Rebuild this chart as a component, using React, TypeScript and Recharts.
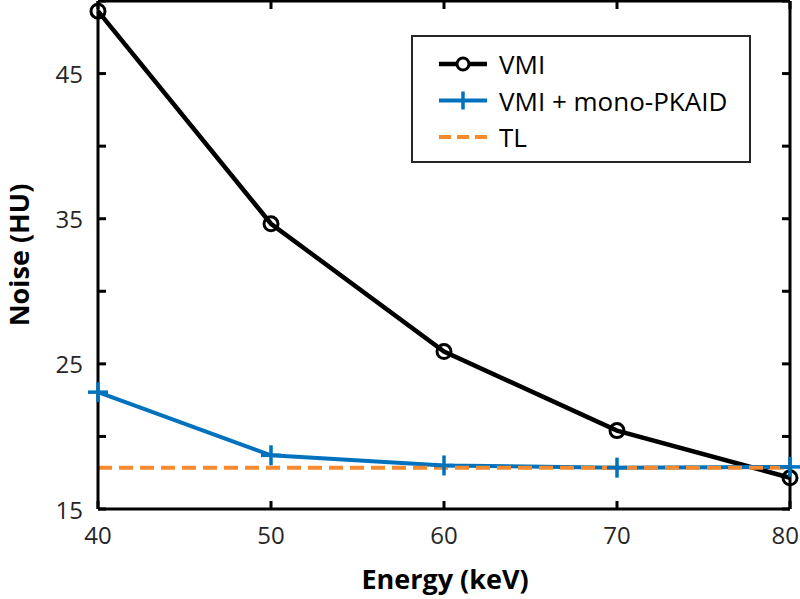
import { LineChart, Line, XAxis, YAxis, ReferenceLine } from 'recharts'

const energy = [40, 50, 60, 70, 80]
const vmi = [49.3, 34.65, 25.85, 20.4, 17.15]
const vmiPkaid = [23.05, 18.7, 18.0, 17.85, 17.9]
const tl = [17.85, 17.85, 17.85, 17.85, 17.85]

const xTicks = [40, 50, 60, 70, 80]
const yTicks = [15, 20, 25, 30, 35, 40, 45, 50]
const yLabels = [15, 25, 35, 45]

const data = energy.map((e, i) => ({ energy: e, vmi: vmi[i], pkaid: vmiPkaid[i], tl: tl[i] }))

const FONT = '"Open Sans", sans-serif'
const X_MIN = 40
const X_MAX = 80
const Y_MIN = 15
const Y_MAX = 50

function LeftTick({ x, y, payload }: any) {
  return (
    <g>
      <line x1={x} x2={x + 8} y1={y} y2={y} stroke="#000" strokeWidth={3} />
      {yLabels.includes(payload.value) && (
        <text x={x - 15} y={y} textAnchor="end" dominantBaseline="central" fontSize={24} fill="#262626" fontFamily={FONT}>
          {payload.value}
        </text>
      )}
    </g>
  )
}

function BottomTick({ x, y, payload }: any) {
  const last = payload.value === X_MAX
  return (
    <g>
      <line x1={x} x2={x} y1={y} y2={y - 8} stroke="#000" strokeWidth={3} />
      <text
        x={last ? 799 : x}
        y={y + 35}
        textAnchor={last ? 'end' : 'middle'}
        fontSize={24}
        fill="#262626"
        fontFamily={FONT}
      >
        {payload.value}
      </text>
    </g>
  )
}

function CircleDot({ cx, cy }: any) {
  return <circle cx={cx} cy={cy} r={7} fill="none" stroke="#000" strokeWidth={3} />
}

function PlusDot({ cx, cy }: any) {
  return (
    <g stroke="#0072BD" strokeWidth={3.5}>
      <line x1={cx - 10} x2={cx + 10} y1={cy} y2={cy} />
      <line x1={cx} x2={cx} y1={cy - 10} y2={cy + 10} />
    </g>
  )
}

function LegendBox() {
  const rows = [
    { name: 'VMI', color: '#000', width: 4.5, dash: undefined, marker: 'circle' },
    { name: 'VMI + mono-PKAID', color: '#0072BD', width: 4, dash: undefined, marker: 'plus' },
    { name: 'TL', color: '#F7892E', width: 4, dash: '12 6', marker: 'none' },
  ]
  return (
    <svg width={340} height={128} style={{ display: 'block' }}>
      <rect x={1} y={1} width={338} height={126} fill="#fff" stroke="#262626" strokeWidth={2} />
      {rows.map((r, i) => {
        const cy = 29 + i * 36.5
        return (
          <g key={r.name}>
            <line x1={28} x2={76} y1={cy} y2={cy} stroke={r.color} strokeWidth={r.width} strokeDasharray={r.dash} />
            {r.marker === 'circle' && <circle cx={52} cy={cy} r={6} fill="#fff" stroke="#000" strokeWidth={3} />}
            {r.marker === 'plus' && <line x1={52} x2={52} y1={cy - 9} y2={cy + 9} stroke={r.color} strokeWidth={3.5} />}
            <text x={88} y={cy} dominantBaseline="central" fontSize={26} fill="#000" fontFamily={FONT}>
              {r.name}
            </text>
          </g>
        )
      })}
    </svg>
  )
}

export default function App() {
  // inward tick length of 8px expressed in data units
  const dx = (8 / 691) * (X_MAX - X_MIN)
  const dy = (8 / 507) * (Y_MAX - Y_MIN)
  return (
    <div style={{ position: 'absolute', left: 0, top: 0, width: 800, height: 599, background: '#fff' }}>
      <LineChart width={800} height={599} data={data} margin={{ top: 1, right: 10, left: 97, bottom: 89 }}>
        <XAxis
          dataKey="energy"
          type="number"
          domain={[X_MIN, X_MAX]}
          ticks={xTicks}
          tick={<BottomTick />}
          tickLine={false}
          tickSize={0}
          tickMargin={0}
          stroke="#000"
          strokeWidth={3}
          height={1}
          interval={0}
        />
        <YAxis
          type="number"
          domain={[Y_MIN, Y_MAX]}
          ticks={yTicks}
          tick={<LeftTick />}
          tickLine={false}
          tickSize={0}
          tickMargin={0}
          stroke="#000"
          strokeWidth={3}
          width={1}
          interval={0}
        />
        {/* box frame: top and right edges with inward ticks */}
        <ReferenceLine y={Y_MAX} stroke="#000" strokeWidth={3} />
        <ReferenceLine x={X_MAX} stroke="#000" strokeWidth={3} />
        {xTicks.map((t) => (
          <ReferenceLine
            key={`tx${t}`}
            segment={[{ x: t, y: Y_MAX }, { x: t, y: Y_MAX - dy }]}
            stroke="#000"
            strokeWidth={3}
          />
        ))}
        {yTicks.map((t) => (
          <ReferenceLine
            key={`ty${t}`}
            segment={[{ x: X_MAX, y: t }, { x: X_MAX - dx, y: t }]}
            stroke="#000"
            strokeWidth={3}
          />
        ))}
        <Line dataKey="vmi" stroke="#000" strokeWidth={4.5} dot={<CircleDot />} activeDot={false} isAnimationActive={false} />
        <Line dataKey="pkaid" stroke="#0072BD" strokeWidth={4} dot={<PlusDot />} activeDot={false} isAnimationActive={false} />
        <Line dataKey="tl" stroke="#F7892E" strokeWidth={4} strokeDasharray="14 7" dot={false} activeDot={false} isAnimationActive={false} />
        <text x={18} y={255} transform="rotate(-90 18 255)" textAnchor="middle" dominantBaseline="central" fontSize={27} fontWeight="bold" fontFamily={FONT} fill="#000">
          Noise (HU)
        </text>
        <text x={445} y={589} textAnchor="middle" fontSize={27} fontWeight="bold" fontFamily={FONT} fill="#000">
          Energy (keV)
        </text>
      </LineChart>
      <div style={{ position: 'absolute', left: 411, top: 35 }}>
        <LegendBox />
      </div>
    </div>
  )
}
